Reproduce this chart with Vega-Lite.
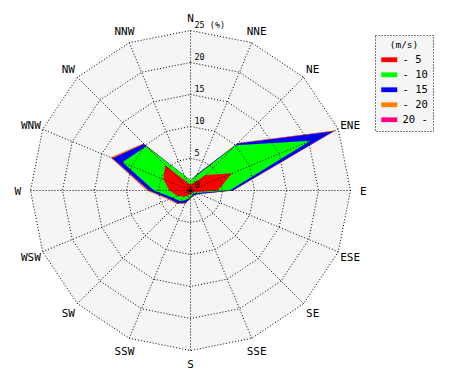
{
  "$schema": "https://vega.github.io/schema/vega-lite/v6.json",
  "width": 470,
  "height": 380,
  "autosize": {"type": "none"},
  "padding": 0,
  "background": "white",
  "config": {
    "view": {"stroke": null},
    "legend": {"strokeDash": [1, 2], "strokeWidth": 1}
  },
  "datasets": {
    "wind": [
      {"dir": "N", "a": 0, "r5": 0.9, "r10": 1.6, "r15": 1.6, "r20": 1.6, "r99": 1.6},
      {"dir": "NNE", "a": 1, "r5": 1.3, "r10": 2.6, "r15": 2.8, "r20": 2.8, "r99": 2.8},
      {"dir": "NE", "a": 2, "r5": 3.4, "r10": 10.0, "r15": 10.4, "r20": 10.5, "r99": 10.5},
      {"dir": "ENE", "a": 3, "r5": 7.0, "r10": 20.3, "r15": 24.2, "r20": 24.5, "r99": 24.5},
      {"dir": "E", "a": 4, "r5": 4.3, "r10": 6.1, "r15": 6.6, "r20": 6.7, "r99": 6.7},
      {"dir": "ESE", "a": 5, "r5": 0.7, "r10": 1.0, "r15": 1.4, "r20": 1.4, "r99": 1.4},
      {"dir": "SE", "a": 6, "r5": 0.4, "r10": 0.7, "r15": 1.0, "r20": 1.0, "r99": 1.0},
      {"dir": "SSE", "a": 7, "r5": 0.4, "r10": 0.7, "r15": 0.9, "r20": 0.9, "r99": 0.9},
      {"dir": "S", "a": 8, "r5": 0.5, "r10": 1.0, "r15": 1.2, "r20": 1.3, "r99": 1.3},
      {"dir": "SSW", "a": 9, "r5": 0.8, "r10": 1.6, "r15": 2.1, "r20": 2.3, "r99": 2.3},
      {"dir": "SW", "a": 10, "r5": 1.4, "r10": 2.3, "r15": 2.8, "r20": 3.0, "r99": 3.0},
      {"dir": "WSW", "a": 11, "r5": 2.2, "r10": 3.0, "r15": 3.5, "r20": 3.7, "r99": 3.7},
      {"dir": "W", "a": 12, "r5": 3.3, "r10": 5.7, "r15": 6.5, "r20": 6.8, "r99": 6.8},
      {"dir": "WNW", "a": 13, "r5": 4.6, "r10": 11.5, "r15": 13.2, "r20": 13.5, "r99": 13.5},
      {"dir": "NW", "a": 14, "r5": 5.6, "r10": 9.8, "r15": 10.3, "r20": 10.4, "r99": 10.4},
      {"dir": "NNW", "a": 15, "r5": 1.4, "r10": 2.6, "r15": 2.6, "r20": 2.6, "r99": 2.6}
    ],
    "grid": [
      {"a": 0, "rings": [5, 10, 15, 20, 25]},
      {"a": 1, "rings": [5, 10, 15, 20, 25]},
      {"a": 2, "rings": [5, 10, 15, 20, 25]},
      {"a": 3, "rings": [5, 10, 15, 20, 25]},
      {"a": 4, "rings": [5, 10, 15, 20, 25]},
      {"a": 5, "rings": [5, 10, 15, 20, 25]},
      {"a": 6, "rings": [5, 10, 15, 20, 25]},
      {"a": 7, "rings": [5, 10, 15, 20, 25]},
      {"a": 8, "rings": [5, 10, 15, 20, 25]},
      {"a": 9, "rings": [5, 10, 15, 20, 25]},
      {"a": 10, "rings": [5, 10, 15, 20, 25]},
      {"a": 11, "rings": [5, 10, 15, 20, 25]},
      {"a": 12, "rings": [5, 10, 15, 20, 25]},
      {"a": 13, "rings": [5, 10, 15, 20, 25]},
      {"a": 14, "rings": [5, 10, 15, 20, 25]},
      {"a": 15, "rings": [5, 10, 15, 20, 25]}
    ],
    "ringlabels": [
      {"t": "0", "r": 0},
      {"t": "5", "r": 5},
      {"t": "10", "r": 10},
      {"t": "15", "r": 15},
      {"t": "20", "r": 20},
      {"t": "25 (%)", "r": 25}
    ]
  },
  "layer": [
    {
      "data": {"name": "grid"},
      "transform": [
        {"flatten": ["rings"], "as": ["ring"]},
        {"filter": "datum.ring == 25"},
        {"calculate": "datum.ring * sin(datum.a * PI / 8)", "as": "gx"},
        {"calculate": "datum.ring * cos(datum.a * PI / 8)", "as": "gy"}
      ],
      "mark": {"type": "line", "interpolate": "linear-closed", "fill": "#f5f5f5", "strokeWidth": 0},
      "encoding": {
        "x": {"field": "gx", "type": "quantitative", "scale": {"domain": [-29.766, 43.672], "nice": false, "zero": false}, "axis": null},
        "y": {"field": "gy", "type": "quantitative", "scale": {"domain": [-29.609, 29.766], "nice": false, "zero": false}, "axis": null},
        "order": {"field": "a", "type": "quantitative"}
      }
    },
    {
      "data": {"name": "wind"},
      "transform": [
        {"fold": ["r99", "r20", "r15", "r10", "r5"], "as": ["speed", "v"]},
        {"calculate": "datum.v * sin(datum.a * PI / 8)", "as": "px"},
        {"calculate": "datum.v * cos(datum.a * PI / 8)", "as": "py"}
      ],
      "mark": {"type": "line", "interpolate": "linear-closed", "strokeWidth": 0},
      "encoding": {
        "x": {"field": "px", "type": "quantitative", "scale": {"domain": [-29.766, 43.672], "nice": false, "zero": false}, "axis": null},
        "y": {"field": "py", "type": "quantitative", "scale": {"domain": [-29.609, 29.766], "nice": false, "zero": false}, "axis": null},
        "order": {"field": "a", "type": "quantitative"},
        "detail": {"field": "speed"},
        "fill": {
          "field": "speed",
          "type": "nominal",
          "scale": {"domain": ["r5", "r10", "r15", "r20", "r99"], "range": ["#ff0000", "#00ff00", "#0000ff", "#ff8000", "#ff0080"]},
          "legend": {
            "orient": "none",
            "legendX": 375,
            "legendY": 35,
            "title": "(m/s)",
            "titleFont": "DejaVu Sans Mono",
            "titleFontSize": 9.5,
            "titleFontWeight": "normal",
            "titleColor": "black",
            "titleAnchor": "middle",
            "titlePadding": 5,
            "labelFont": "DejaVu Sans Mono",
            "labelFontSize": 10.5,
            "labelColor": "black",
            "labelOffset": 8,
            "labelExpr": "datum.label == 'r5' ? '- 5    ' : datum.label == 'r10' ? '- 10   ' : datum.label == 'r15' ? '- 15   ' : datum.label == 'r20' ? '- 20   ' : '20 -   '",
            "symbolType": "M-2,-0.6H2V0.6H-2Z",
            "symbolSize": 64,
            "symbolOffset": 4,
            "symbolStrokeWidth": 0,
            "symbolOpacity": 1,
            "rowPadding": 4,
            "padding": 5,
            "strokeColor": "black",
            "fillColor": "#f5f5f5"
          }
        }
      }
    },
    {
      "data": {"name": "grid"},
      "transform": [
        {"flatten": ["rings"], "as": ["ring"]},
        {"calculate": "datum.ring * sin(datum.a * PI / 8)", "as": "gx"},
        {"calculate": "datum.ring * cos(datum.a * PI / 8)", "as": "gy"}
      ],
      "mark": {"type": "line", "interpolate": "linear-closed", "stroke": "black", "strokeWidth": 1, "strokeDash": [1, 2]},
      "encoding": {
        "x": {"field": "gx", "type": "quantitative", "scale": {"domain": [-29.766, 43.672], "nice": false, "zero": false}, "axis": null},
        "y": {"field": "gy", "type": "quantitative", "scale": {"domain": [-29.609, 29.766], "nice": false, "zero": false}, "axis": null},
        "order": {"field": "a", "type": "quantitative"},
        "detail": {"field": "ring"}
      }
    },
    {
      "data": {"name": "grid"},
      "transform": [
        {"calculate": "25 * sin(datum.a * PI / 8)", "as": "sx"},
        {"calculate": "25 * cos(datum.a * PI / 8)", "as": "sy"}
      ],
      "mark": {"type": "rule", "stroke": "black", "strokeWidth": 1, "strokeDash": [1, 2]},
      "encoding": {
        "x": {"field": "sx", "type": "quantitative", "scale": {"domain": [-29.766, 43.672], "nice": false, "zero": false}, "axis": null},
        "y": {"field": "sy", "type": "quantitative", "scale": {"domain": [-29.609, 29.766], "nice": false, "zero": false}, "axis": null},
        "x2": {"datum": 0},
        "y2": {"datum": 0}
      }
    },
    {
      "data": {"values": [{"c": 0}]},
      "mark": {"type": "point", "filled": true, "color": "black", "size": 18, "opacity": 1},
      "encoding": {
        "x": {"field": "c", "type": "quantitative", "scale": {"domain": [-29.766, 43.672], "nice": false, "zero": false}, "axis": null},
        "y": {"field": "c", "type": "quantitative", "scale": {"domain": [-29.609, 29.766], "nice": false, "zero": false}, "axis": null}
      }
    },
    {
      "data": {"name": "ringlabels"},
      "mark": {"type": "text", "align": "left", "baseline": "bottom", "dx": 4, "dy": -1, "font": "DejaVu Sans Mono", "fontSize": 8.5, "color": "black"},
      "encoding": {
        "x": {"datum": 0, "type": "quantitative", "scale": {"domain": [-29.766, 43.672], "nice": false, "zero": false}, "axis": null},
        "y": {"field": "r", "type": "quantitative", "scale": {"domain": [-29.609, 29.766], "nice": false, "zero": false}, "axis": null},
        "text": {"field": "t"}
      }
    },
    {
      "data": {"name": "wind"},
      "transform": [
        {"calculate": "27 * sin(datum.a * PI / 8)", "as": "lx"},
        {"calculate": "27 * cos(datum.a * PI / 8)", "as": "ly"}
      ],
      "mark": {"type": "text", "align": "center", "baseline": "middle", "dy": 1.5, "font": "DejaVu Sans Mono", "fontSize": 11, "color": "black"},
      "encoding": {
        "x": {"field": "lx", "type": "quantitative", "scale": {"domain": [-29.766, 43.672], "nice": false, "zero": false}, "axis": null},
        "y": {"field": "ly", "type": "quantitative", "scale": {"domain": [-29.609, 29.766], "nice": false, "zero": false}, "axis": null},
        "text": {"field": "dir"}
      }
    }
  ]
}
